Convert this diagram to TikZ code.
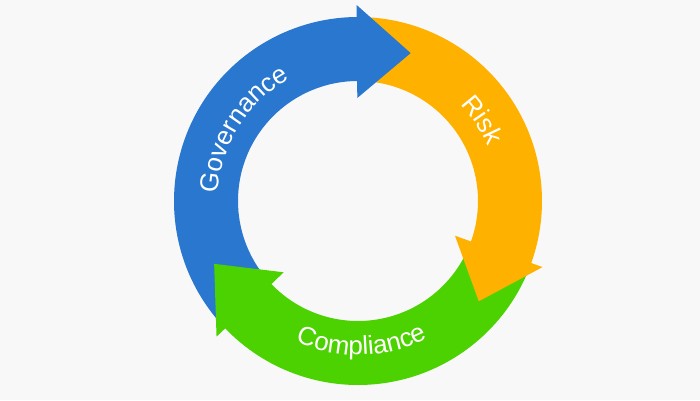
\documentclass[tikz,border=0pt]{standalone}
\usepackage{fontspec}
\newfontfamily\lsans{Liberation Sans}
\newcommand\labfont{\lsans\fontsize{26}{31}\selectfont}
\usetikzlibrary{decorations.text}
\definecolor{bgc}{RGB}{248,248,248}
\definecolor{gblue}{RGB}{41,119,206}
\definecolor{rorange}{RGB}{255,177,0}
\definecolor{cgreen}{RGB}{76,210,0}
% body: start angle, end angle, colour
\newcommand\cycbody[3]{\fill[#3] (#1:184) arc[start angle=#1, end angle=#2, radius=184] -- (#2:120) arc[start angle=#2, end angle=#1, radius=120] -- cycle;}
% head: base angle, tip angle, colour
\newcommand\cychead[3]{\fill[#3] (#1:196) -- (#2:157) -- (#1:103) -- cycle;}
\tikzset{ringlabel/.style={decorate, decoration={text along path, text={|\labfont|#1}, text align=center, text color=white}}}
\begin{document}
\begin{tikzpicture}[x=1pt,y=1pt]
\fill[bgc] (0,0) rectangle (700,400);
\useasboundingbox (0,0) rectangle (700,400);
\begin{scope}[shift={(358,199)}]
  % bodies
  \cycbody{220}{89.9}{gblue}
  \cycbody{87}{-20.2}{rorange}
  \cycbody{337}{223.3}{cgreen}
  % heads
  \cychead{90.4}{70.4}{gblue}
  \cychead{-19.7}{-39.7}{rorange}
  \cychead{223.8}{203.6}{cgreen}
  % labels
  \path[ringlabel=Governance] (180:140) arc[start angle=180, end angle=116, radius=140];
  \path[ringlabel=Risk] (60:141) arc[start angle=60, end angle=6, radius=141];
  \path[ringlabel=Compliance] (241:154) arc[start angle=241, end angle=302, radius=154];
\end{scope}
\end{tikzpicture}
\end{document}
